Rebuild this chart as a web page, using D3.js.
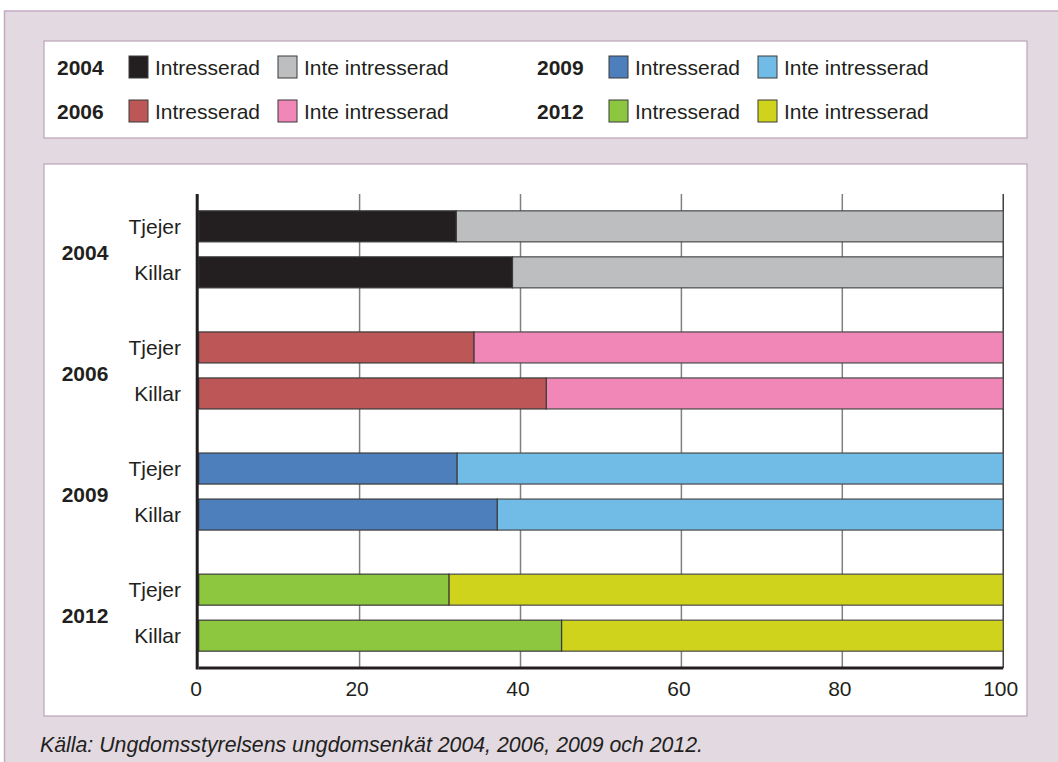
<!DOCTYPE html>
<html>
<head>
<meta charset="utf-8">
<script src="https://cdn.jsdelivr.net/npm/d3@7/dist/d3.min.js"></script>
<style>
    body { margin: 0; background: #fff; }
    svg text { font-family: "Liberation Sans", Arial, sans-serif; fill: #231f20; }
</style>
</head>
<body>
<div id="chart"></div>
<script>
// data
var years = ["2004", "2006", "2009", "2012"];
var genders = ["Tjejer", "Killar"];
var interested = [
    [32, 39],
    [34.2, 43.2],
    [32.1, 37.1],
    [31.1, 45.1]
];
var interestedColors = ["#231f20", "#bd5656", "#4e7fbd", "#8dc63f"];
var notInterestedColors = ["#bdbec0", "#f087b6", "#71bbe7", "#d0d31c"];
var seriesLabels = ["Intresserad", "Inte intresserad"];
var xTicks = [0, 20, 40, 60, 80, 100];
var sourceText = "Källa: Ungdomsstyrelsens ungdomsenkät 2004, 2006, 2009 och 2012.";

var width = 1058, height = 762;

var svg = d3.select("#chart").append("svg")
    .attr("width", width)
    .attr("height", height);

// background panels
svg.append("rect")
    .attr("x", 4.5).attr("y", 11)
    .attr("width", width + 10).attr("height", height)
    .attr("fill", "#e2d9e1")
    .attr("stroke", "#c6a9c3")
    .attr("stroke-width", 1.5);

svg.append("rect")
    .attr("x", 44).attr("y", 41)
    .attr("width", 983).attr("height", 97)
    .attr("fill", "#fff")
    .attr("stroke", "#bda3ba")
    .attr("stroke-width", 1.2);

svg.append("rect")
    .attr("x", 44).attr("y", 164)
    .attr("width", 983).attr("height", 552)
    .attr("fill", "#fff")
    .attr("stroke", "#bda3ba")
    .attr("stroke-width", 1.2);

// legend
var legend = svg.append("g");
years.forEach(function (year, i) {
    var col = Math.floor(i / 2);
    var row = i % 2;
    var g = legend.append("g")
        .attr("transform", "translate(" + (57 + col * 480) + "," + (67 + row * 44) + ")");

    g.append("text")
        .attr("dominant-baseline", "central")
        .style("font-size", "21px")
        .style("font-weight", "bold")
        .text(year);

    [interestedColors[i], notInterestedColors[i]].forEach(function (c, j) {
        var off = 72 + j * 149;
        g.append("rect")
            .attr("x", off).attr("y", -11)
            .attr("width", 19).attr("height", 22)
            .attr("fill", c)
            .attr("stroke", "#3a3a3a")
            .attr("stroke-width", 1);
        g.append("text")
            .attr("x", off + 26)
            .attr("dominant-baseline", "central")
            .style("font-size", "21px")
            .text(seriesLabels[j]);
    });
});

// scales
var plotTop = 194, plotBottom = 668;

var x = d3.scaleLinear()
    .domain([0, 100])
    .range([198.7, 1003.2]);

var yGroup = d3.scaleBand()
    .domain(years)
    .range([plotTop, plotBottom])
    .paddingInner(0.364)
    .paddingOuter(0.139);

var yInner = d3.scaleBand()
    .domain(genders)
    .range([0, yGroup.bandwidth()])
    .paddingInner(0.326)
    .paddingOuter(0);

// gridlines
svg.append("g").selectAll("line")
    .data(xTicks.filter(function (d) { return d > 0; }))
    .enter()
    .append("line")
    .attr("x1", function (d) { return x(d); })
    .attr("x2", function (d) { return x(d); })
    .attr("y1", plotTop)
    .attr("y2", plotBottom)
    .attr("stroke", function (d) { return d === 100 ? "#231f20" : "#808080"; })
    .attr("stroke-width", function (d) { return d === 100 ? 1.3 : 1.5; });

// bars
var rows = [];
years.forEach(function (year, i) {
    genders.forEach(function (gender, j) {
        rows.push({ year: year, gender: gender, value: interested[i][j], idx: i });
    });
});

var bars = svg.append("g");
rows.forEach(function (r) {
    var y0 = yGroup(r.year) + yInner(r.gender);
    bars.append("rect")
        .attr("x", x(r.value))
        .attr("y", y0)
        .attr("width", x(100) - x(r.value))
        .attr("height", yInner.bandwidth())
        .attr("fill", notInterestedColors[r.idx])
        .attr("stroke", "#4a4a4a")
        .attr("stroke-width", 1.2);
    bars.append("rect")
        .attr("x", x(0))
        .attr("y", y0)
        .attr("width", x(r.value) - x(0))
        .attr("height", yInner.bandwidth())
        .attr("fill", interestedColors[r.idx])
        .attr("stroke", "#3a3a3a")
        .attr("stroke-width", 1.2);
});

// category labels
rows.forEach(function (r) {
    svg.append("text")
        .attr("x", 181)
        .attr("y", yGroup(r.year) + yInner(r.gender) + yInner.bandwidth() / 2)
        .attr("text-anchor", "end")
        .attr("dominant-baseline", "central")
        .style("font-size", "21px")
        .text(r.gender);
});

svg.append("g").selectAll("text")
    .data(years)
    .enter()
    .append("text")
    .attr("x", 85)
    .attr("y", function (d) { return yGroup(d) + yGroup.bandwidth() / 2 + 3; })
    .attr("text-anchor", "middle")
    .attr("dominant-baseline", "central")
    .style("font-size", "21px")
    .style("font-weight", "bold")
    .text(function (d) { return d; });

// axes
var xAxis = svg.append("g")
    .attr("transform", "translate(0," + plotBottom + ")")
    .call(d3.axisBottom(x).tickValues(xTicks).tickSize(0).tickPadding(13));
xAxis.select(".domain").remove();
xAxis.selectAll("text")
    .style("font-size", "21px")
    .style("font-family", "'Liberation Sans', Arial, sans-serif")
    .attr("dx", "-3")
    .attr("fill", "#231f20");

svg.append("line")
    .attr("x1", x(0)).attr("x2", x(100))
    .attr("y1", plotBottom).attr("y2", plotBottom)
    .attr("stroke", "#231f20")
    .attr("stroke-width", 3);

svg.append("line")
    .attr("x1", x(0) - 1.5).attr("x2", x(0) - 1.5)
    .attr("y1", plotTop).attr("y2", plotBottom + 1.5)
    .attr("stroke", "#231f20")
    .attr("stroke-width", 3);

// source
svg.append("text")
    .attr("x", 40)
    .attr("y", 752)
    .style("font-size", "21.3px")
    .style("font-style", "italic")
    .text(sourceText);
</script>
</body>
</html>
